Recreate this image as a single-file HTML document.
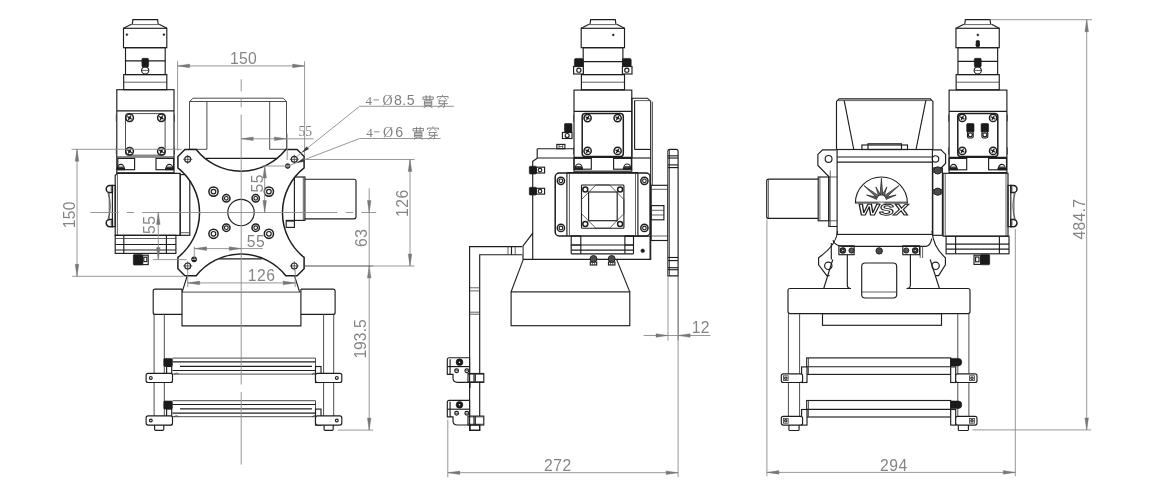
<!DOCTYPE html><html><head><meta charset="utf-8"><style>
html,body{margin:0;padding:0;background:#fff;width:1174px;height:493px;overflow:hidden}
svg{display:block;will-change:transform;filter:blur(0.35px)}
.o{fill:none;stroke:#1e1e1e;stroke-width:1.15}
.ow{fill:#fff;stroke:#1e1e1e;stroke-width:1.15}
.ob{fill:none;stroke:#1e1e1e;stroke-width:1.5}
.pl{fill:#fff;stroke:#1e1e1e;stroke-width:1.5}
.t{fill:none;stroke:#3a3a3a;stroke-width:0.8}
.fb{fill:#1a1a1a;stroke:#1a1a1a;stroke-width:0.6}
.d{fill:none;stroke:#8c8c8c;stroke-width:0.9}
.cl{fill:none;stroke:#8c8c8c;stroke-width:0.9}
.cd{fill:none;stroke:#8c8c8c;stroke-width:0.9;stroke-dasharray:12 4 2 4}
.cd2{fill:none;stroke:#8c8c8c;stroke-width:0.9;stroke-dasharray:20 5 3 5}
.ar{fill:#777;stroke:#777;stroke-width:0.4}
.tx{fill:#858585;font-family:"Liberation Sans",sans-serif}
.tx2{fill:#808080;font-family:"Liberation Sans",sans-serif}
.ray{fill:#666;stroke:#1e1e1e;stroke-width:0.7}
.ray0{fill:#fff;stroke:none}
.lg{fill:none;stroke:#1e1e1e;stroke-width:1.1}
.wsx{fill:#fff;stroke:#1e1e1e;stroke-width:0.95;font-family:"Liberation Sans",sans-serif;font-weight:bold;font-size:15.5px}
.wt{fill:none;stroke:#fff;stroke-width:0.7}
.ar2{fill:#333;stroke:#333;stroke-width:0.5}
.m{fill:none;stroke:#444;stroke-width:0.95}
.tf{fill:none;stroke:#777;stroke-width:0.5}
.sm{fill:#444;stroke:none}
.sk{fill:#555;stroke:#1e1e1e;stroke-width:1}
.wf{fill:#fff;stroke:none}
.dash{fill:none;stroke:#808080;stroke-width:0.9}
.cj{fill:none;stroke:#7a7a7a;stroke-width:0.85}
</style></head><body><svg width="1174" height="493" viewBox="0 0 1174 493"><rect x="0" y="0" width="1174" height="493" fill="#fff"/><polyline class="o" points="132.3,24.3 132.9,19.6 157.6,19.6 158.2,24.3"/>
<polyline class="o" points="131.4,24.3 123.5,28.3"/>
<polyline class="o" points="159.1,24.3 166.8,28.3"/>
<line class="t" x1="131.4" y1="24.6" x2="159.1" y2="24.6"/>
<rect class="o" x="123.5" y="28.3" width="43.3" height="19.4"/>
<rect class="o" x="125.5" y="47.7" width="39.7" height="26.9"/>
<line class="o" x1="125.5" y1="60.8" x2="165.2" y2="60.8"/>
<rect class="o" x="123.7" y="74.6" width="43.1" height="15.1"/>
<line class="t" x1="123.7" y1="82.2" x2="166.8" y2="82.2"/>
<circle class="fb" cx="126.9" cy="34.6" r="0.9"/>
<circle class="fb" cx="163.9" cy="34.6" r="0.9"/>
<rect class="fb" x="141.9" y="58.3" width="6.7" height="8.7" rx="1.2"/>
<circle class="o" cx="145.2" cy="70.4" r="3.6"/>
<line class="t" x1="141.8" y1="70.4" x2="148.6" y2="70.4"/>
<rect class="o" x="116.8" y="89.7" width="57.2" height="83.1"/>
<line class="o" x1="116.8" y1="110.9" x2="174" y2="110.9"/>
<rect class="m" x="125.5" y="113.6" width="39.6" height="41.6" rx="2"/>
<circle class="ob" cx="129.6" cy="117.8" r="3.8"/>
<line class="o" x1="127.3" y1="116.47" x2="131.9" y2="119.13"/>
<line class="o" x1="130.93" y1="115.5" x2="128.27" y2="120.1"/>
<circle class="fb" cx="129.6" cy="117.8" r="0.95"/>
<circle class="ob" cx="161.4" cy="117.8" r="3.8"/>
<line class="o" x1="159.1" y1="116.47" x2="163.7" y2="119.13"/>
<line class="o" x1="162.73" y1="115.5" x2="160.07" y2="120.1"/>
<circle class="fb" cx="161.4" cy="117.8" r="0.95"/>
<circle class="ob" cx="129.6" cy="151.3" r="3.8"/>
<line class="o" x1="127.3" y1="149.97" x2="131.9" y2="152.63"/>
<line class="o" x1="130.93" y1="149" x2="128.27" y2="153.6"/>
<circle class="fb" cx="129.6" cy="151.3" r="0.95"/>
<circle class="ob" cx="161.4" cy="151.3" r="3.8"/>
<line class="o" x1="159.1" y1="149.97" x2="163.7" y2="152.63"/>
<line class="o" x1="162.73" y1="149" x2="160.07" y2="153.6"/>
<circle class="fb" cx="161.4" cy="151.3" r="0.95"/>
<line class="o" x1="116.8" y1="157" x2="174" y2="157"/>
<rect class="o" x="117.8" y="158.4" width="16.8" height="11.3"/>
<rect class="o" x="156" y="158.4" width="17.6" height="11.3"/>
<path class="o" d="M117.4 168.4 A3.4 4.05 0 0 1 124.2 168.4 Z"/>
<line class="o" x1="118" y1="167.17" x2="123.6" y2="167.17"/>
<rect class="o" x="117.1" y="168.4" width="7.4" height="1.2"/>
<path class="o" d="M166 168.4 A3.4 4.05 0 0 1 172.8 168.4 Z"/>
<line class="o" x1="166.6" y1="167.17" x2="172.2" y2="167.17"/>
<rect class="o" x="165.7" y="168.4" width="7.4" height="1.2"/>
<rect class="sm" x="115.8" y="114.5" width="1" height="7"/>
<rect class="sm" x="174" y="114.5" width="1" height="7"/>
<rect class="sm" x="115.8" y="147.5" width="1" height="7"/>
<rect class="sm" x="174" y="147.5" width="1" height="7"/>
<path class="o" d="M115.2 175.5 L117.2 173.3 L180.2 173.3 L180.2 235.3 L115.2 235.3 Z"/>
<line class="t" x1="117.4" y1="173.3" x2="117.4" y2="235.3"/>
<rect class="o" x="180.2" y="174.6" width="9.6" height="60.7"/>
<line class="t" x1="180.2" y1="232.7" x2="189.8" y2="232.7"/>
<rect class="o" x="112.4" y="185.4" width="2.8" height="41.3"/>
<path class="ob" d="M112.4 185.4 L109.8 185.4 A3.6 3.6 0 0 0 109.8 192.6 L112.4 192.6 Z"/>
<line class="t" x1="111.2" y1="186.6" x2="111.2" y2="191.4"/>
<path class="ob" d="M112.4 219.5 L109.8 219.5 A3.6 3.6 0 0 0 109.8 226.7 L112.4 226.7 Z"/>
<line class="t" x1="111.2" y1="220.7" x2="111.2" y2="225.5"/>
<line class="t" x1="109.2" y1="192.6" x2="109.2" y2="219.5"/>
<path class="t" d="M107.8 192.6 Q113 206.05 107.8 219.5"/>
<rect class="o" x="115.2" y="235.3" width="60.7" height="18.1"/>
<line class="o" x1="123.8" y1="235.3" x2="123.8" y2="253.4"/>
<line class="o" x1="166.4" y1="235.3" x2="166.4" y2="253.4"/>
<line class="t" x1="115.2" y1="238.5" x2="175.9" y2="238.5"/>
<line class="o" x1="115.2" y1="244.5" x2="175.9" y2="244.5"/>
<line class="o" x1="115.2" y1="250" x2="175.9" y2="250"/>
<rect class="fb" x="133.3" y="254.5" width="9.3" height="10.6" rx="1"/>
<rect class="o" x="142.6" y="255.2" width="5.6" height="9.4"/>
<rect class="o" x="143.8" y="257.2" width="3" height="4.4"/>
<path class="m" d="M189.5 149.3 L189.5 101.5 L193.1 98.2 L283.1 98.2 L286.5 101.5 L286.5 149.3"/>
<line class="m" x1="189.5" y1="101.5" x2="286.5" y2="101.5"/>
<line class="m" x1="206.9" y1="101.5" x2="206.9" y2="149.3"/>
<line class="m" x1="269.7" y1="101.5" x2="269.7" y2="149.3"/>
<line class="m" x1="189.5" y1="149.3" x2="206.9" y2="149.3"/>
<line class="m" x1="269.7" y1="149.3" x2="286.5" y2="149.3"/>
<path class="o" d="M304.9 179.2 L354.0 179.2 Q356.0 179.2 356.0 181.2 L356.0 216.8 Q356.0 218.8 354.0 218.8 L304.9 218.8"/>
<rect class="o" x="294.4" y="177" width="10.5" height="43.4"/>
<line class="t" x1="303.3" y1="177" x2="303.3" y2="220.4"/>
<rect class="o" x="286.2" y="220.4" width="8.2" height="7"/>
<line class="t" x1="286.2" y1="221.4" x2="294.4" y2="221.4"/>
<path class="pl" d="M184.9 149.55 L196.2 149.55 A57.2 57.2 0 0 0 285.8 149.55 L297.1 149.55 L304.1 156.55 L304.1 167.85 A57.2 57.2 0 0 0 304.1 257.45 L304.1 268.75 L297.1 275.75 L285.8 275.75 A57.2 57.2 0 0 0 196.2 275.75 L184.9 275.75 L177.9 268.75 L177.9 257.45 A57.2 57.2 0 0 0 177.9 167.85 L177.9 156.55 Z"/>
<line class="o" x1="205.9" y1="158.3" x2="277.1" y2="158.3"/>
<line class="o" x1="218.9" y1="258.9" x2="261.8" y2="258.9"/>
<circle class="o" cx="187.7" cy="159.35" r="3"/>
<line class="t" x1="183.1" y1="159.35" x2="192.3" y2="159.35"/>
<line class="t" x1="187.7" y1="154.75" x2="187.7" y2="163.95"/>
<circle class="o" cx="187.7" cy="265.95" r="3"/>
<line class="t" x1="183.1" y1="265.95" x2="192.3" y2="265.95"/>
<line class="t" x1="187.7" y1="261.35" x2="187.7" y2="270.55"/>
<circle class="o" cx="294.3" cy="159.35" r="3"/>
<line class="t" x1="289.7" y1="159.35" x2="298.9" y2="159.35"/>
<line class="t" x1="294.3" y1="154.75" x2="294.3" y2="163.95"/>
<circle class="o" cx="294.3" cy="265.95" r="3"/>
<line class="t" x1="289.7" y1="265.95" x2="298.9" y2="265.95"/>
<line class="t" x1="294.3" y1="261.35" x2="294.3" y2="270.55"/>
<circle class="sk" cx="287.7" cy="166.05" r="2.3"/>
<line class="wt" x1="286" y1="166.05" x2="289.4" y2="166.05"/>
<circle class="fb" cx="194.1" cy="259.35" r="2.6"/>
<line class="wt" x1="192.1" y1="259.35" x2="196.1" y2="259.35"/>
<circle class="o" cx="241" cy="212.5" r="13.2"/>
<circle class="ob" cx="213.5" cy="191.6" r="4.6"/>
<circle class="o" cx="213.5" cy="191.6" r="2.3"/>
<circle class="ob" cx="268.9" cy="191.6" r="4.6"/>
<circle class="o" cx="268.9" cy="191.6" r="2.3"/>
<circle class="ob" cx="213.5" cy="233.8" r="4.6"/>
<circle class="o" cx="213.5" cy="233.8" r="2.3"/>
<circle class="ob" cx="268.9" cy="233.8" r="4.6"/>
<circle class="o" cx="268.9" cy="233.8" r="2.3"/>
<circle class="ob" cx="226.3" cy="198.3" r="3.7"/>
<circle class="o" cx="226.3" cy="198.3" r="1.85"/>
<circle class="ob" cx="255.7" cy="198.3" r="3.7"/>
<circle class="o" cx="255.7" cy="198.3" r="1.85"/>
<circle class="ob" cx="226.3" cy="227.7" r="3.7"/>
<circle class="o" cx="226.3" cy="227.7" r="1.85"/>
<circle class="ob" cx="255.7" cy="227.7" r="3.7"/>
<circle class="o" cx="255.7" cy="227.7" r="1.85"/>
<line class="o" x1="187.2" y1="275.8" x2="182.1" y2="292.1"/>
<line class="o" x1="294.6" y1="275.8" x2="299.6" y2="292.1"/>
<path class="o" d="M182.0 289.1 L155.2 289.1 Q153.2 289.1 153.2 291.1 L153.2 312.4 Q153.2 314.4 155.2 314.4 L182.0 314.4"/>
<path class="o" d="M300.9 289.1 L333.1 289.1 Q335.1 289.1 335.1 291.1 L335.1 312.4 Q335.1 314.4 333.1 314.4 L300.9 314.4"/>
<path class="o" d="M182.0 289.1 L182.0 325.9 L300.9 325.9 L300.9 289.1"/>
<line class="m" x1="182" y1="292.1" x2="300.9" y2="292.1"/>
<line class="m" x1="154.1" y1="314.4" x2="154.1" y2="425"/>
<line class="m" x1="164.3" y1="314.4" x2="164.3" y2="425"/>
<line class="m" x1="323.6" y1="314.4" x2="323.6" y2="425"/>
<line class="m" x1="333.7" y1="314.4" x2="333.7" y2="425"/>
<path class="o" d="M154.6 425 L154.6 429.2 Q154.6 430.3 155.6 430.3 L162.8 430.3 Q163.8 430.3 163.8 429.2 L163.8 425"/>
<path class="o" d="M324.1 425 L324.1 429.2 Q324.1 430.3 325.1 430.3 L332.2 430.3 Q333.2 430.3 333.2 429.2 L333.2 425"/>
<line class="m" x1="172.5" y1="358.1" x2="315.5" y2="358.1"/>
<line class="m" x1="172.5" y1="374.1" x2="315.5" y2="374.1"/>
<line class="m" x1="315.5" y1="358.1" x2="315.5" y2="374.4"/>
<line class="o" x1="172.5" y1="361.9" x2="315.5" y2="361.9"/>
<line class="o" x1="180" y1="366.3" x2="312" y2="366.3"/>
<line class="o" x1="172.5" y1="370.5" x2="315.5" y2="370.5"/>
<rect class="fb" x="163.8" y="358.4" width="8.6" height="8.1" rx="1"/>
<rect class="ow" x="166.6" y="366.5" width="5.1" height="15.8"/>
<rect class="ow" x="146.1" y="373.3" width="26.4" height="9.2" rx="2"/>
<circle class="o" cx="150.8" cy="377.9" r="1.4"/>
<rect class="ow" x="315.5" y="366.5" width="5.5" height="16"/>
<rect class="ow" x="315.5" y="373.3" width="26.3" height="9.2" rx="2"/>
<circle class="o" cx="336.8" cy="377.9" r="1.4"/>
<path class="t" d="M174 374.4 q2 -2.5 4.5 -0.5"/>
<path class="t" d="M312 374.4 q2 -2.5 4.5 -0.5"/>
<line class="m" x1="172.5" y1="400.7" x2="315.5" y2="400.7"/>
<line class="m" x1="172.5" y1="416.7" x2="315.5" y2="416.7"/>
<line class="m" x1="315.5" y1="400.7" x2="315.5" y2="417"/>
<line class="o" x1="172.5" y1="404.5" x2="315.5" y2="404.5"/>
<line class="o" x1="180" y1="408.9" x2="312" y2="408.9"/>
<line class="o" x1="172.5" y1="413.1" x2="315.5" y2="413.1"/>
<rect class="fb" x="163.8" y="401" width="8.6" height="8.1" rx="1"/>
<rect class="ow" x="166.6" y="409.1" width="5.1" height="15.8"/>
<rect class="ow" x="146.1" y="415.9" width="26.4" height="9.2" rx="2"/>
<circle class="o" cx="150.8" cy="420.5" r="1.4"/>
<rect class="ow" x="315.5" y="409.1" width="5.5" height="16"/>
<rect class="ow" x="315.5" y="415.9" width="26.3" height="9.2" rx="2"/>
<circle class="o" cx="336.8" cy="420.5" r="1.4"/>
<path class="t" d="M174 417 q2 -2.5 4.5 -0.5"/>
<path class="t" d="M312 417 q2 -2.5 4.5 -0.5"/>
<line class="cl" x1="241.2" y1="79.3" x2="241.2" y2="91.4"/>
<line class="cl" x1="241.2" y1="98.2" x2="241.2" y2="107.2"/>
<line class="cl" x1="241.2" y1="114.5" x2="241.2" y2="384.5"/>
<line class="cl" x1="241.2" y1="392.1" x2="241.2" y2="464.6"/>
<line class="cl" x1="90.4" y1="212.5" x2="118.4" y2="212.5"/>
<line class="cl" x1="126.6" y1="212.5" x2="134" y2="212.5"/>
<line class="cl" x1="142.2" y1="212.5" x2="337.4" y2="212.5"/>
<line class="cl" x1="345.6" y1="212.5" x2="353.1" y2="212.5"/>
<line class="cl" x1="361.3" y1="212.5" x2="376.2" y2="212.5"/>
<line class="d" x1="177.6" y1="60.8" x2="177.6" y2="150.5"/>
<line class="d" x1="304.6" y1="61.3" x2="304.6" y2="156"/>
<line class="d" x1="177.6" y1="65.9" x2="304.6" y2="65.9"/>
<polygon class="ar" points="177.6,65.9 189.6,64.1 189.6,67.7"/>
<polygon class="ar" points="304.6,65.9 292.6,64.1 292.6,67.7"/>
<text class="tx" x="230" y="63.9" style="font-size:15.7px;letter-spacing:0.3px">150</text>
<line class="d" x1="287.2" y1="133.6" x2="287.2" y2="160"/>
<line class="d" x1="241.2" y1="138.8" x2="313.6" y2="138.8"/>
<polygon class="ar" points="241.2,138.8 253.2,137 253.2,140.6"/>
<polygon class="ar" points="286.4,138.8 274.4,137 274.4,140.6"/>
<text class="tx2" x="298.4" y="136.4" style="font-size:13.6px;font-family:'Liberation Serif',serif;letter-spacing:0px">55</text>
<line class="d" x1="264.7" y1="166" x2="264.7" y2="212.5"/>
<polygon class="ar" points="264.7,166 262.9,178 266.5,178"/>
<polygon class="ar" points="264.7,212.5 262.9,200.5 266.5,200.5"/>
<line class="d" x1="262.5" y1="166" x2="287" y2="166"/>
<text class="tx" x="262.6" y="192.5" style="font-size:15.7px;letter-spacing:0.55px" transform="rotate(-90 262.6 192.5)">55</text>
<line class="d" x1="194.6" y1="248.6" x2="262.8" y2="248.6"/>
<polygon class="ar" points="194.6,248.6 206.6,246.8 206.6,250.4"/>
<polygon class="ar" points="241.2,248.6 229.2,246.8 229.2,250.4"/>
<line class="d" x1="194.3" y1="246.5" x2="194.3" y2="259"/>
<text class="tx" x="246.8" y="247.1" style="font-size:15.7px;letter-spacing:0.55px">55</text>
<line class="d" x1="187.7" y1="282.9" x2="295.2" y2="282.9"/>
<polygon class="ar" points="187.7,282.9 199.7,281.1 199.7,284.7"/>
<polygon class="ar" points="295.2,282.9 283.2,281.1 283.2,284.7"/>
<line class="d" x1="187.7" y1="270" x2="187.7" y2="287"/>
<line class="d" x1="295.2" y1="270" x2="295.2" y2="287"/>
<text class="tx" x="247.7" y="281" style="font-size:15.7px;letter-spacing:0.55px">126</text>
<line class="d" x1="77" y1="149.3" x2="77" y2="276.3"/>
<polygon class="ar" points="77,149.3 75.2,161.3 78.8,161.3"/>
<polygon class="ar" points="77,276.3 75.2,264.3 78.8,264.3"/>
<line class="d" x1="71.6" y1="149.3" x2="181.7" y2="149.3"/>
<line class="d" x1="72.2" y1="276.3" x2="183.7" y2="276.3"/>
<text class="tx" x="75.3" y="228.2" style="font-size:15.7px;letter-spacing:0.2px" transform="rotate(-90 75.3 228.2)">150</text>
<line class="d" x1="158.3" y1="212.5" x2="158.3" y2="259.6"/>
<polygon class="ar" points="158.3,212.5 156.5,224.5 160.1,224.5"/>
<polygon class="ar" points="158.3,259.6 156.5,247.6 160.1,247.6"/>
<line class="d" x1="153" y1="259.6" x2="186.6" y2="259.6"/>
<text class="tx" x="155.3" y="234" style="font-size:15.7px;letter-spacing:0.55px" transform="rotate(-90 155.3 234)">55</text>
<line class="d" x1="410" y1="159.5" x2="410" y2="266"/>
<polygon class="ar" points="410,159.5 408.2,171.5 411.8,171.5"/>
<polygon class="ar" points="410,266 408.2,254 411.8,254"/>
<line class="d" x1="305" y1="159.5" x2="414.5" y2="159.5"/>
<line class="d" x1="373" y1="266" x2="414.5" y2="266"/>
<text class="tx" x="408.4" y="217" style="font-size:15.7px;letter-spacing:0.55px" transform="rotate(-90 408.4 217)">126</text>
<line class="d" x1="369.2" y1="188.3" x2="369.2" y2="266"/>
<polygon class="ar" points="369.2,212.5 367.4,200.5 371,200.5"/>
<polygon class="ar" points="369.2,266 367.4,278 371,278"/>
<text class="tx" x="367.1" y="247" style="font-size:15.7px;letter-spacing:0.55px" transform="rotate(-90 367.1 247)">63</text>
<line class="d" x1="369.2" y1="266" x2="369.2" y2="430.1"/>
<polygon class="ar" points="369.2,430.1 367.4,418.1 371,418.1"/>
<line class="m" x1="304.5" y1="266" x2="373" y2="266"/>
<line class="d" x1="337.8" y1="430.1" x2="373" y2="430.1"/>
<text class="tx" x="366.3" y="358.6" style="font-size:15.7px;letter-spacing:0px" transform="rotate(-90 366.3 358.6)">193.5</text>
<line class="d" x1="359.6" y1="106.3" x2="453.9" y2="106.3"/>
<line class="d" x1="359.6" y1="106.3" x2="293.8" y2="159"/>
<polygon class="ar2" points="302.5,152 306.64,146.77 308.51,149.11"/>
<line class="d" x1="359.6" y1="138.5" x2="440.6" y2="138.5"/>
<line class="d" x1="359.6" y1="138.5" x2="287.8" y2="166.1"/>
<polygon class="ar2" points="297.5,162.4 303.03,158.67 304.11,161.47"/>
<text class="tx2" x="365.6" y="104.9" style="font-size:13px;font-family:'Liberation Serif',serif;letter-spacing:0px">4</text>
<line class="dash" x1="373.5" y1="99.9" x2="378.9" y2="99.9"/>
<text class="tx2" x="382.4" y="104.9" style="font-size:14px;font-family:'Liberation Serif',serif;letter-spacing:0px">Ø</text>
<text class="tx2" x="394" y="104.9" style="font-size:14.2px;letter-spacing:0.4px">8.5</text>
<g transform="translate(421.6 94.6) scale(1.08)">
<path class="cj" d="M1.2 2.2 H10.8 V4.4 H1.2 Z"/>
<path class="cj" d="M4.3 0.6 V5.2 M7.7 0.6 V5.2"/>
<path class="cj" d="M2.6 5.8 H9.4 V10 H2.6 Z M2.6 7.2 H9.4 M2.6 8.6 H9.4"/>
<path class="cj" d="M5 10.2 L2 12.2 M7 10.2 L10 12.2"/>
</g>
<g transform="translate(436.2 94.6) scale(1.08)">
<path class="cj" d="M6 0.2 V1.6 M1 3.4 V1.8 H11 V3.4"/>
<path class="cj" d="M4.6 2.6 L2.4 4.8 M7.4 2.6 L9.6 4.8"/>
<path class="cj" d="M2 5.8 H9.6 M3.2 5.8 L2.4 8.4 H10.8"/>
<path class="cj" d="M7.6 5.8 V11.4 L6.4 12 M7 8.6 L1.6 12"/>
</g>
<text class="tx2" x="366.2" y="136.8" style="font-size:13px;font-family:'Liberation Serif',serif;letter-spacing:0px">4</text>
<line class="dash" x1="374.1" y1="131.8" x2="379.5" y2="131.8"/>
<text class="tx2" x="383" y="136.8" style="font-size:14px;font-family:'Liberation Serif',serif;letter-spacing:0px">Ø</text>
<text class="tx2" x="395.2" y="136.8" style="font-size:14.2px;letter-spacing:0px">6</text>
<g transform="translate(411.8 126.2) scale(1.08)">
<path class="cj" d="M1.2 2.2 H10.8 V4.4 H1.2 Z"/>
<path class="cj" d="M4.3 0.6 V5.2 M7.7 0.6 V5.2"/>
<path class="cj" d="M2.6 5.8 H9.4 V10 H2.6 Z M2.6 7.2 H9.4 M2.6 8.6 H9.4"/>
<path class="cj" d="M5 10.2 L2 12.2 M7 10.2 L10 12.2"/>
</g>
<g transform="translate(426.4 126.2) scale(1.08)">
<path class="cj" d="M6 0.2 V1.6 M1 3.4 V1.8 H11 V3.4"/>
<path class="cj" d="M4.6 2.6 L2.4 4.8 M7.4 2.6 L9.6 4.8"/>
<path class="cj" d="M2 5.8 H9.6 M3.2 5.8 L2.4 8.4 H10.8"/>
<path class="cj" d="M7.6 5.8 V11.4 L6.4 12 M7 8.6 L1.6 12"/>
</g>
<polyline class="o" points="590,24.3 590.6,19.6 615.3,19.6 615.9,24.3"/>
<polyline class="o" points="589.1,24.3 581.2,28.3"/>
<polyline class="o" points="616.8,24.3 624.5,28.3"/>
<line class="t" x1="589.1" y1="24.6" x2="616.8" y2="24.6"/>
<rect class="o" x="581.2" y="28.3" width="43.3" height="19.4"/>
<rect class="o" x="583.2" y="47.7" width="39.7" height="26.9"/>
<line class="o" x1="583.2" y1="61.6" x2="622.9" y2="61.6"/>
<rect class="o" x="581.4" y="74.6" width="43.1" height="15.1"/>
<line class="t" x1="581.4" y1="82.2" x2="624.5" y2="82.2"/>
<circle class="fb" cx="613.3" cy="34.9" r="0.9"/>
<rect class="fb" x="574.4" y="58.4" width="8.9" height="8.5" rx="1.5"/>
<rect class="ow" x="573.6" y="66.5" width="9.7" height="7.5"/>
<circle class="o" cx="578.85" cy="70.2" r="2.1"/>
<rect class="fb" x="622.4" y="58.4" width="8.8" height="8.5" rx="1.5"/>
<rect class="ow" x="622.4" y="66.5" width="9.6" height="7.5"/>
<circle class="o" cx="626.8" cy="70.2" r="2.1"/>
<rect class="o" x="574" y="90.1" width="57.8" height="81.1"/>
<line class="o" x1="574" y1="111.4" x2="631.8" y2="111.4"/>
<rect class="ob" x="582.2" y="113.4" width="41.1" height="43" rx="3"/>
<circle class="ob" cx="587.6" cy="118.1" r="3.6"/>
<line class="o" x1="585.42" y1="116.84" x2="589.78" y2="119.36"/>
<line class="o" x1="588.86" y1="115.92" x2="586.34" y2="120.28"/>
<circle class="fb" cx="587.6" cy="118.1" r="0.9"/>
<circle class="ob" cx="617.6" cy="118.1" r="3.6"/>
<line class="o" x1="615.42" y1="116.84" x2="619.78" y2="119.36"/>
<line class="o" x1="618.86" y1="115.92" x2="616.34" y2="120.28"/>
<circle class="fb" cx="617.6" cy="118.1" r="0.9"/>
<circle class="ob" cx="587.6" cy="150.9" r="3.6"/>
<line class="o" x1="585.42" y1="149.64" x2="589.78" y2="152.16"/>
<line class="o" x1="588.86" y1="148.72" x2="586.34" y2="153.08"/>
<circle class="fb" cx="587.6" cy="150.9" r="0.9"/>
<circle class="ob" cx="617.6" cy="150.9" r="3.6"/>
<line class="o" x1="615.42" y1="149.64" x2="619.78" y2="152.16"/>
<line class="o" x1="618.86" y1="148.72" x2="616.34" y2="153.08"/>
<circle class="fb" cx="617.6" cy="150.9" r="0.9"/>
<line class="o" x1="574" y1="157.4" x2="631.8" y2="157.4"/>
<rect class="o" x="574" y="158.4" width="17.3" height="10.8"/>
<rect class="o" x="613.6" y="158.4" width="17.8" height="10.8"/>
<path class="o" d="M575.3 168 A3.4 4.05 0 0 1 582.1 168 Z"/>
<line class="o" x1="575.9" y1="166.77" x2="581.5" y2="166.77"/>
<rect class="o" x="575" y="168" width="7.4" height="1.2"/>
<path class="o" d="M623.8 168 A3.4 4.05 0 0 1 630.6 168 Z"/>
<line class="o" x1="624.4" y1="166.77" x2="630" y2="166.77"/>
<rect class="o" x="623.5" y="168" width="7.4" height="1.2"/>
<rect class="sm" x="573" y="114.5" width="1" height="7"/>
<rect class="sm" x="573" y="147.5" width="1" height="7"/>
<rect class="fb" x="564.5" y="123.5" width="7.5" height="9" rx="1"/>
<rect class="ow" x="562.4" y="132.5" width="9.6" height="6"/>
<circle class="o" cx="567.2" cy="135.5" r="2"/>
<path class="o" d="M631.9 158 L631.9 98.2 L647.4 98.2 L650.7 101.4 L650.7 259.4"/>
<line class="t" x1="634.6" y1="100.6" x2="650.7" y2="100.6"/>
<line class="o" x1="634.6" y1="100.6" x2="634.6" y2="149.4"/>
<line class="t" x1="652.5" y1="101.6" x2="652.5" y2="185.3"/>
<line class="o" x1="634.6" y1="149.4" x2="650.7" y2="149.4"/>
<line class="o" x1="631.3" y1="158" x2="650.7" y2="158"/>
<line class="o" x1="537.2" y1="148.7" x2="574" y2="148.7"/>
<line class="o" x1="537.2" y1="158" x2="574" y2="158"/>
<line class="o" x1="537.2" y1="148.7" x2="537.2" y2="158.2"/>
<rect class="o" x="556.8" y="144.4" width="8.1" height="4.3"/>
<line class="t" x1="559" y1="145" x2="559" y2="148"/>
<line class="t" x1="562.7" y1="145" x2="562.7" y2="148"/>
<line class="t" x1="559" y1="146.6" x2="562.7" y2="146.6"/>
<polyline class="o" points="537.2,158.2 532.7,161.4 532.7,233.2 523,245.9 523,259.4"/>
<line class="o" x1="532.7" y1="233.2" x2="532.7" y2="259.4"/>
<rect class="fb" x="529.3" y="166.2" width="7.1" height="7.8" rx="1"/>
<rect class="ow" x="536.4" y="167.2" width="8.2" height="5.8"/>
<circle class="o" cx="540" cy="170.1" r="1.8"/>
<rect class="fb" x="529.3" y="187.3" width="7.1" height="7.8" rx="1"/>
<rect class="ow" x="536.4" y="188.3" width="8.2" height="5.8"/>
<circle class="o" cx="540" cy="191.2" r="1.8"/>
<path class="ow" d="M522.3 246.6 L469.6 246.6 L469.6 430.3 L479.7 430.3 L479.7 254.7 L522.3 254.7"/>
<line class="t" x1="508" y1="246.6" x2="508" y2="254.7"/>
<line class="o" x1="511.5" y1="246.6" x2="511.5" y2="254.7"/>
<line class="t" x1="515.2" y1="246.6" x2="515.2" y2="254.7"/>
<line class="t" x1="469.6" y1="287.8" x2="479.7" y2="287.8"/>
<line class="t" x1="469.6" y1="290.9" x2="479.7" y2="290.9"/>
<line class="t" x1="469.6" y1="312.2" x2="479.7" y2="312.2"/>
<line class="t" x1="469.6" y1="314.2" x2="479.7" y2="314.2"/>
<path class="ow" d="M469.6 357.7 L449.3 357.7 Q447.3 357.7 447.3 359.7 L447.3 374.3 L453.0 374.3 L453.0 378.1 Q453.0 382.4 457.5 382.4 L469.6 382.4"/>
<line class="o" x1="450.1" y1="359.2" x2="450.1" y2="374.3"/>
<line class="o" x1="447.3" y1="366.6" x2="469.6" y2="366.6"/>
<circle class="fb" cx="459.5" cy="362.2" r="3.4"/>
<circle class="wf" cx="459.5" cy="362.2" r="0.8"/>
<circle class="o" cx="456.6" cy="370.7" r="1.9"/>
<line class="t" x1="455" y1="370.7" x2="458.2" y2="370.7"/>
<circle class="o" cx="466.8" cy="370.7" r="1.9"/>
<line class="t" x1="465.2" y1="370.7" x2="468.4" y2="370.7"/>
<rect class="ow" x="468" y="373.5" width="15.8" height="8.9"/>
<line class="o" x1="474" y1="373.5" x2="474" y2="382.4"/>
<line class="o" x1="475.3" y1="373.5" x2="475.3" y2="382.4"/>
<line class="t" x1="468" y1="374.3" x2="483.8" y2="374.3"/>
<line class="t" x1="468" y1="381.6" x2="483.8" y2="381.6"/>
<line class="o" x1="469.6" y1="357.7" x2="469.6" y2="382.4"/>
<line class="o" x1="470" y1="382.4" x2="470" y2="387.7"/>
<path class="ow" d="M469.6 400.3 L449.3 400.3 Q447.3 400.3 447.3 402.3 L447.3 416.9 L453.0 416.9 L453.0 420.7 Q453.0 425 457.5 425 L469.6 425"/>
<line class="o" x1="450.1" y1="401.8" x2="450.1" y2="416.9"/>
<line class="o" x1="447.3" y1="409.2" x2="469.6" y2="409.2"/>
<circle class="fb" cx="459.5" cy="404.8" r="3.4"/>
<circle class="wf" cx="459.5" cy="404.8" r="0.8"/>
<circle class="o" cx="456.6" cy="413.3" r="1.9"/>
<line class="t" x1="455" y1="413.3" x2="458.2" y2="413.3"/>
<circle class="o" cx="466.8" cy="413.3" r="1.9"/>
<line class="t" x1="465.2" y1="413.3" x2="468.4" y2="413.3"/>
<rect class="ow" x="468" y="416.1" width="15.8" height="8.9"/>
<line class="o" x1="474" y1="416.1" x2="474" y2="425"/>
<line class="o" x1="475.3" y1="416.1" x2="475.3" y2="425"/>
<line class="t" x1="468" y1="416.9" x2="483.8" y2="416.9"/>
<line class="t" x1="468" y1="424.2" x2="483.8" y2="424.2"/>
<line class="o" x1="469.6" y1="400.3" x2="469.6" y2="425"/>
<line class="o" x1="470" y1="425" x2="470" y2="430.3"/>
<rect class="o" x="469.6" y="425" width="10.1" height="5.3"/>
<line class="o" x1="523" y1="259.4" x2="651.1" y2="259.4"/>
<line class="o" x1="523.3" y1="259.4" x2="511.1" y2="291.9"/>
<line class="o" x1="616.6" y1="259.4" x2="629.8" y2="291.9"/>
<rect class="o" x="511.1" y="291.9" width="118.7" height="33.8"/>
<rect class="o" x="590.3" y="262" width="6.4" height="3"/>
<line class="t" x1="592.4" y1="262" x2="592.4" y2="265"/>
<line class="t" x1="594.6" y1="262" x2="594.6" y2="265"/>
<circle class="sk" cx="593.5" cy="258.9" r="3.4"/>
<circle class="t" cx="593.5" cy="258.9" r="1.6"/>
<rect class="o" x="608.5" y="262" width="6.4" height="3"/>
<line class="t" x1="610.6" y1="262" x2="610.6" y2="265"/>
<line class="t" x1="612.8" y1="262" x2="612.8" y2="265"/>
<circle class="sk" cx="611.7" cy="258.9" r="3.4"/>
<circle class="t" cx="611.7" cy="258.9" r="1.6"/>
<rect class="ob" x="555.2" y="173.1" width="94.9" height="62.9" rx="4"/>
<line class="o" x1="566.9" y1="173.1" x2="566.9" y2="236"/>
<line class="t" x1="569.4" y1="173.1" x2="569.4" y2="236"/>
<line class="t" x1="635.5" y1="173.1" x2="635.5" y2="236"/>
<line class="o" x1="637.9" y1="173.1" x2="637.9" y2="236"/>
<line class="o" x1="566.9" y1="172.6" x2="637.9" y2="172.6"/>
<circle class="ob" cx="560.9" cy="180.8" r="3.6"/>
<circle class="o" cx="560.9" cy="180.8" r="1.8"/>
<circle class="ob" cx="644.4" cy="180.8" r="3.6"/>
<circle class="o" cx="644.4" cy="180.8" r="1.8"/>
<circle class="ob" cx="560.9" cy="227.9" r="3.6"/>
<circle class="o" cx="560.9" cy="227.9" r="1.8"/>
<circle class="ob" cx="644.4" cy="227.9" r="3.6"/>
<circle class="o" cx="644.4" cy="227.9" r="1.8"/>
<rect class="o" x="581.5" y="185" width="42.4" height="43.2" rx="0.8"/>
<rect class="o" x="588.6" y="192" width="28.6" height="28.7"/>
<polygon class="t" points="595.8,185 609.6,185 623.9,199.5 623.9,213.7 609.6,228.2 595.8,228.2 581.5,213.7 581.5,199.5"/>
<circle class="ob" cx="585.3" cy="189.4" r="2.5"/>
<circle class="ob" cx="620.1" cy="189.4" r="2.5"/>
<circle class="ob" cx="585.3" cy="224" r="2.5"/>
<circle class="ob" cx="620.1" cy="224" r="2.5"/>
<rect class="o" x="571.2" y="236" width="9.6" height="9"/>
<rect class="o" x="624.9" y="236" width="8.6" height="9"/>
<line class="o" x1="571.2" y1="245" x2="633.5" y2="245"/>
<line class="o" x1="571.2" y1="250.1" x2="633.5" y2="250.1"/>
<line class="o" x1="571.2" y1="253.8" x2="633.5" y2="253.8"/>
<line class="o" x1="571.2" y1="245" x2="571.2" y2="253.8"/>
<line class="o" x1="633.5" y1="245" x2="633.5" y2="253.8"/>
<line class="o" x1="580.8" y1="245" x2="580.8" y2="253.8"/>
<line class="o" x1="624.9" y1="245" x2="624.9" y2="253.8"/>
<circle class="fb" cx="642.7" cy="250.8" r="1.8"/>
<polyline class="o" points="625.4,236.2 650.1,236.2"/>
<line class="o" x1="650.1" y1="236" x2="650.1" y2="259.4"/>
<rect class="o" x="651.1" y="185.3" width="16.9" height="55.2"/>
<line class="t" x1="651.1" y1="189.3" x2="668" y2="189.3"/>
<line class="t" x1="651.1" y1="236" x2="668" y2="236"/>
<rect class="o" x="651.1" y="205.6" width="12.8" height="14.2"/>
<line class="t" x1="651.1" y1="210.3" x2="663.9" y2="210.3"/>
<line class="t" x1="651.1" y1="215" x2="663.9" y2="215"/>
<path class="ow" d="M667.9 275.8 L667.9 151.4 Q667.9 149.4 669.9 149.4 L676.1 149.4 Q678.1 149.4 678.1 151.4 L678.1 275.8 Z"/>
<line class="t" x1="669.5" y1="149.4" x2="669.5" y2="275.8"/>
<line class="o" x1="667.9" y1="155.8" x2="678.1" y2="155.8"/>
<line class="o" x1="667.9" y1="158" x2="678.1" y2="158"/>
<line class="o" x1="667.9" y1="164.9" x2="678.1" y2="164.9"/>
<line class="o" x1="667.9" y1="167.6" x2="678.1" y2="167.6"/>
<line class="o" x1="667.9" y1="257.5" x2="678.1" y2="257.5"/>
<line class="o" x1="667.9" y1="260.6" x2="678.1" y2="260.6"/>
<line class="o" x1="667.9" y1="267.7" x2="678.1" y2="267.7"/>
<line class="o" x1="667.9" y1="269.7" x2="678.1" y2="269.7"/>
<line class="d" x1="668" y1="276" x2="668" y2="340.6"/>
<line class="m" x1="678.1" y1="276" x2="678.1" y2="340.6"/>
<line class="d" x1="678.1" y1="340.6" x2="678.1" y2="477.2"/>
<line class="d" x1="643.6" y1="335.5" x2="710.5" y2="335.5"/>
<polygon class="ar" points="668,335.5 656,333.7 656,337.3"/>
<polygon class="ar" points="678.1,335.5 690.1,333.7 690.1,337.3"/>
<text class="tx" x="691.8" y="333.2" style="font-size:15.7px;letter-spacing:0.2px">12</text>
<line class="d" x1="447.8" y1="419.6" x2="447.8" y2="477.4"/>
<line class="d" x1="447.8" y1="472.7" x2="678.1" y2="472.7"/>
<polygon class="ar" points="447.8,472.7 459.8,470.9 459.8,474.5"/>
<polygon class="ar" points="678.1,472.7 666.1,470.9 666.1,474.5"/>
<text class="tx" x="543.9" y="471.1" style="font-size:15.7px;letter-spacing:0.55px">272</text>
<polyline class="o" points="964.75,24.3 965.35,19.6 990.05,19.6 990.65,24.3"/>
<polyline class="o" points="963.85,24.3 955.95,28.3"/>
<polyline class="o" points="991.55,24.3 999.25,28.3"/>
<line class="t" x1="963.85" y1="24.6" x2="991.55" y2="24.6"/>
<rect class="o" x="955.95" y="28.3" width="43.3" height="19.4"/>
<rect class="o" x="957.95" y="47.7" width="39.7" height="26.9"/>
<line class="o" x1="957.95" y1="61.3" x2="997.65" y2="61.3"/>
<rect class="o" x="956.15" y="74.6" width="43.1" height="15.1"/>
<line class="t" x1="956.15" y1="82.2" x2="999.25" y2="82.2"/>
<circle class="fb" cx="977.8" cy="34.9" r="0.9"/>
<rect class="fb" x="976.1" y="40.5" width="3.4" height="5.7" rx="1"/>
<circle class="o" cx="977.8" cy="45" r="1.6"/>
<rect class="fb" x="974.3" y="58.3" width="6.9" height="8.7" rx="1.2"/>
<circle class="o" cx="977.75" cy="70.4" r="3.6"/>
<line class="t" x1="974.3" y1="70.4" x2="981.2" y2="70.4"/>
<rect class="o" x="949.1" y="90.1" width="57.8" height="82.5"/>
<line class="o" x1="949.1" y1="111.4" x2="1006.9" y2="111.4"/>
<rect class="ob" x="957.8" y="113.4" width="40" height="43" rx="3"/>
<circle class="ob" cx="962.3" cy="117.9" r="3.6"/>
<line class="o" x1="960.12" y1="116.64" x2="964.48" y2="119.16"/>
<line class="o" x1="963.56" y1="115.72" x2="961.04" y2="120.08"/>
<circle class="fb" cx="962.3" cy="117.9" r="0.9"/>
<circle class="ob" cx="993.1" cy="117.9" r="3.6"/>
<line class="o" x1="990.92" y1="116.64" x2="995.28" y2="119.16"/>
<line class="o" x1="994.36" y1="115.72" x2="991.84" y2="120.08"/>
<circle class="fb" cx="993.1" cy="117.9" r="0.9"/>
<circle class="ob" cx="962.3" cy="150.9" r="3.6"/>
<line class="o" x1="960.12" y1="149.64" x2="964.48" y2="152.16"/>
<line class="o" x1="963.56" y1="148.72" x2="961.04" y2="153.08"/>
<circle class="fb" cx="962.3" cy="150.9" r="0.9"/>
<circle class="ob" cx="993.1" cy="150.9" r="3.6"/>
<line class="o" x1="990.92" y1="149.64" x2="995.28" y2="152.16"/>
<line class="o" x1="994.36" y1="148.72" x2="991.84" y2="153.08"/>
<circle class="fb" cx="993.1" cy="150.9" r="0.9"/>
<rect class="fb" x="966.7" y="123.5" width="7.3" height="8.7" rx="1"/>
<rect class="ow" x="967.5" y="131.7" width="5.7" height="6.3" rx="1.5"/>
<circle class="o" cx="970.35" cy="134.8" r="2"/>
<rect class="fb" x="981.1" y="123.5" width="7.5" height="8.7" rx="1"/>
<rect class="ow" x="981.9" y="131.7" width="5.9" height="6.3" rx="1.5"/>
<circle class="o" cx="984.85" cy="134.8" r="2"/>
<line class="o" x1="949.1" y1="157.4" x2="1006.9" y2="157.4"/>
<rect class="o" x="949.1" y="158.4" width="17.6" height="11.4"/>
<rect class="o" x="988.6" y="158.4" width="17.9" height="11.4"/>
<path class="o" d="M950.1 168.4 A3.4 4.05 0 0 1 956.9 168.4 Z"/>
<line class="o" x1="950.7" y1="167.17" x2="956.3" y2="167.17"/>
<rect class="o" x="949.8" y="168.4" width="7.4" height="1.2"/>
<path class="o" d="M998.4 168.4 A3.4 4.05 0 0 1 1005.2 168.4 Z"/>
<line class="o" x1="999" y1="167.17" x2="1004.6" y2="167.17"/>
<rect class="o" x="998.1" y="168.4" width="7.4" height="1.2"/>
<rect class="sm" x="948.1" y="114.5" width="1" height="7"/>
<rect class="sm" x="948.1" y="147.5" width="1" height="7"/>
<rect class="sm" x="1006.9" y="114.5" width="1" height="7"/>
<rect class="sm" x="1006.9" y="147.5" width="1" height="7"/>
<rect class="o" x="943.1" y="173.3" width="64.9" height="62.9"/>
<line class="t" x1="1006" y1="173.3" x2="1006" y2="236.2"/>
<line class="t" x1="945.2" y1="173.3" x2="945.2" y2="236.2"/>
<rect class="o" x="1008" y="185.4" width="2.8" height="41.3"/>
<path class="ob" d="M1010.8 185.4 L1013.4 185.4 A3.6 3.6 0 0 1 1013.4 192.6 L1010.8 192.6 Z"/>
<line class="t" x1="1012" y1="186.6" x2="1012" y2="191.4"/>
<path class="ob" d="M1010.8 219.5 L1013.4 219.5 A3.6 3.6 0 0 1 1013.4 226.7 L1010.8 226.7 Z"/>
<line class="t" x1="1012" y1="220.7" x2="1012" y2="225.5"/>
<line class="t" x1="1014" y1="192.6" x2="1014" y2="219.5"/>
<path class="t" d="M1015.4 192.6 Q1010.2 206.05 1015.4 219.5"/>
<rect class="o" x="946.1" y="236.2" width="62.9" height="17.6"/>
<line class="o" x1="946.1" y1="244.1" x2="1009" y2="244.1"/>
<line class="o" x1="946.1" y1="249.1" x2="1009" y2="249.1"/>
<line class="o" x1="955.6" y1="236.2" x2="955.6" y2="253.8"/>
<line class="o" x1="999.4" y1="236.2" x2="999.4" y2="253.8"/>
<rect class="fb" x="980.6" y="254.6" width="9.1" height="10.2" rx="1"/>
<rect class="ow" x="974" y="255.2" width="6.6" height="9.2"/>
<rect class="o" x="975.6" y="257" width="3.4" height="4.8"/>
<rect class="o" x="932.8" y="168" width="9.6" height="67.3"/>
<rect class="t" x="933.5" y="168.2" width="8.3" height="4.4"/>
<circle class="sk" cx="937.7" cy="170.4" r="3.6"/>
<circle class="t" cx="937.7" cy="170.4" r="1.5"/>
<rect class="t" x="933.5" y="189.5" width="8.3" height="4.4"/>
<circle class="sk" cx="937.7" cy="191.7" r="3.6"/>
<circle class="t" cx="937.7" cy="191.7" r="1.5"/>
<path class="o" d="M836.5 149.5 L836.5 101.4 L839.1 98.8 L930.3 98.8 L932.9 101.4 L932.9 149.5"/>
<line class="t" x1="837.5" y1="100.6" x2="932" y2="100.6"/>
<line class="o" x1="844.2" y1="100.6" x2="853.8" y2="149.5"/>
<line class="o" x1="925.8" y1="100.6" x2="916" y2="149.5"/>
<rect class="o" x="861.9" y="145" width="45.6" height="4.5"/>
<rect class="o" x="868" y="143.8" width="33.5" height="5.7"/>
<rect class="o" x="837.1" y="149.5" width="95.3" height="84.9"/>
<line class="o" x1="837.1" y1="157" x2="932.4" y2="157"/>
<line class="o" x1="837.1" y1="162.1" x2="932.4" y2="162.1"/>
<path class="o" d="M836.5 149.8 L822.5 149.8 L817.9 154.4 L817.9 165.5 L828.8 176.5 L828.8 226.5 L837.1 226.5"/>
<line class="t" x1="830.2" y1="170.5" x2="830.2" y2="226.5"/>
<line class="t" x1="828.8" y1="177" x2="837.1" y2="177"/>
<line class="t" x1="828.8" y1="220.8" x2="837.1" y2="220.8"/>
<circle class="o" cx="828.6" cy="158.9" r="3.4"/>
<path class="o" d="M932.9 149.8 L941.0 149.8 L945.6 154.4 L945.6 163.5 L941.0 168.0"/>
<circle class="o" cx="935.5" cy="158.9" r="3.2"/>
<path class="o" d="M818.2 179.1 L768.7 179.1 Q766.7 179.1 766.7 181.1 L766.7 216.4 Q766.7 218.4 768.7 218.4 L818.2 218.4"/>
<line class="t" x1="768.4" y1="179.1" x2="768.4" y2="218.4"/>
<rect class="o" x="818.2" y="177" width="10.6" height="43.8"/>
<line class="t" x1="819.9" y1="177" x2="819.9" y2="220.8"/>
<path class="lg" d="M855.4 203 A26 26 0 0 1 907.4 203 Z"/>
<polygon class="ray" points="882.8,195.3 881.4,178.3 880,195.3"/>
<polygon class="ray" points="878.78,195.88 863.91,185.64 877.02,198.06"/>
<polygon class="ray" points="885.78,198.06 898.89,185.64 884.02,195.88"/>
<polygon class="ray" points="880.65,195.23 875.93,186.91 878.63,196.09"/>
<polygon class="ray" points="884.17,196.09 886.87,186.91 882.15,195.23"/>
<polygon class="ray" points="877.46,197.36 866.66,195.01 876.78,199.46"/>
<polygon class="ray" points="886.02,199.46 896.14,195.01 885.34,197.36"/>
<circle class="ray0" cx="881.4" cy="199.8" r="4.2"/>
<line class="t" x1="855.8" y1="202.1" x2="907" y2="202.1"/>
<g transform="translate(857.6 214.8) skewX(-9)"><text x="0" y="0" textLength="50.2" lengthAdjust="spacingAndGlyphs" class="wsx">WSX</text></g>
<path class="o" d="M837.6 231 C837 240 831 249 818.6 257.7 L818.6 264.8 L826.8 275.6 L829.6 275.6"/>
<circle class="o" cx="828.3" cy="265.8" r="3.7"/>
<path class="o" d="M932.0 231 C932.6 240 935.5 249 945.4 257.7 L945.4 264.8 L938.6 275.6 L935.8 275.6"/>
<circle class="o" cx="935.6" cy="265.8" r="3.7"/>
<line class="o" x1="832.8" y1="259.5" x2="823.7" y2="288.5"/>
<line class="o" x1="930.2" y1="259.5" x2="939.4" y2="288.5"/>
<path class="o" d="M832.8 240.2 Q835.5 246.3 843.5 246.3 L925.7 246.3 Q930.5 246.3 931.7 238.7"/>
<line class="o" x1="831.3" y1="243" x2="831.3" y2="259.5"/>
<path class="o" d="M847.3 254.7 L847.3 285.0 Q847.3 288.5 851.0 288.5"/>
<path class="o" d="M910.4 254.7 L910.4 285.0 Q910.4 288.5 906.7 288.5"/>
<line class="t" x1="922.6" y1="246.3" x2="922.6" y2="258"/>
<line class="t" x1="920.2" y1="246.3" x2="920.2" y2="258"/>
<rect class="o" x="861.7" y="263" width="35" height="35" rx="3.5"/>
<line class="t" x1="861.7" y1="292" x2="896.7" y2="292"/>
<rect class="o" x="838.9" y="245.8" width="15.2" height="8.9"/>
<rect class="o" x="902.8" y="245.8" width="16.8" height="8.9"/>
<circle class="ob" cx="842.8" cy="250.5" r="2.5"/>
<circle class="o" cx="842.8" cy="250.5" r="1.25"/>
<circle class="sk" cx="851.5" cy="250.5" r="2.6"/>
<circle class="sk" cx="906.2" cy="250.5" r="2.6"/>
<circle class="ob" cx="915.2" cy="250.5" r="2.5"/>
<circle class="o" cx="915.2" cy="250.5" r="1.25"/>
<circle class="sk" cx="879.2" cy="250.9" r="3.2"/>
<circle class="t" cx="879.2" cy="250.9" r="1.3"/>
<path class="o" d="M851.0 288.5 L790 288.5 Q788 288.5 788 290.5 L788 311.6 Q788 313.6 790 313.6 L968 313.6 Q970 313.6 970 311.6 L970 290.5 Q970 288.5 968 288.5 L906.7 288.5"/>
<rect class="o" x="822.5" y="313.6" width="119" height="11.7"/>
<line class="m" x1="788.4" y1="313.6" x2="788.4" y2="425"/>
<line class="m" x1="799.6" y1="313.6" x2="799.6" y2="425"/>
<line class="m" x1="957.8" y1="313.6" x2="957.8" y2="425"/>
<line class="m" x1="968.9" y1="313.6" x2="968.9" y2="425"/>
<path class="o" d="M788.9 425 L788.9 429.4 Q788.9 430.5 789.9 430.5 L798.1 430.5 Q799.1 430.5 799.1 429.4 L799.1 425"/>
<path class="o" d="M958.3 425 L958.3 429.4 Q958.3 430.5 959.3 430.5 L967.4 430.5 Q968.4 430.5 968.4 429.4 L968.4 425"/>
<rect class="ow" x="806.7" y="357.9" width="144" height="16.5"/>
<line class="o" x1="806.7" y1="366.7" x2="950.7" y2="366.7"/>
<line class="t" x1="808.5" y1="357.9" x2="808.5" y2="374.4"/>
<rect class="ow" x="801.6" y="366.9" width="5.4" height="15.6"/>
<rect class="ow" x="781.3" y="373.8" width="21.3" height="8.7" rx="2"/>
<rect class="t" x="783.4" y="375.8" width="4.8" height="4.8"/>
<circle class="o" cx="785.8" cy="378.2" r="1.2"/>
<rect class="ow" x="950.7" y="366.9" width="5" height="15.6"/>
<rect class="ow" x="955.7" y="373.8" width="21.3" height="8.7" rx="2"/>
<rect class="t" x="969.6" y="375.8" width="4.8" height="4.8"/>
<circle class="o" cx="972" cy="378.2" r="1.2"/>
<path class="fb" d="M950.7 358.4 L958.5 358.4 Q961.8 358.4 961.8 362.1 Q961.8 365.9 958.5 365.9 L950.7 365.9 Z"/>
<rect class="ow" x="806.7" y="400.5" width="144" height="16.5"/>
<line class="o" x1="806.7" y1="409.3" x2="950.7" y2="409.3"/>
<line class="t" x1="808.5" y1="400.5" x2="808.5" y2="417"/>
<rect class="ow" x="801.6" y="409.5" width="5.4" height="15.6"/>
<rect class="ow" x="781.3" y="416.4" width="21.3" height="8.7" rx="2"/>
<rect class="t" x="783.4" y="418.4" width="4.8" height="4.8"/>
<circle class="o" cx="785.8" cy="420.8" r="1.2"/>
<rect class="ow" x="950.7" y="409.5" width="5" height="15.6"/>
<rect class="ow" x="955.7" y="416.4" width="21.3" height="8.7" rx="2"/>
<rect class="t" x="969.6" y="418.4" width="4.8" height="4.8"/>
<circle class="o" cx="972" cy="420.8" r="1.2"/>
<path class="fb" d="M950.7 401 L958.5 401 Q961.8 401 961.8 404.7 Q961.8 408.5 958.5 408.5 L950.7 408.5 Z"/>
<line class="d" x1="766.9" y1="219.5" x2="766.9" y2="476.3"/>
<line class="d" x1="1015.3" y1="229" x2="1015.3" y2="476.3"/>
<line class="d" x1="766.9" y1="472.4" x2="1015.3" y2="472.4"/>
<polygon class="ar" points="766.9,472.4 778.9,470.6 778.9,474.2"/>
<polygon class="ar" points="1015.3,472.4 1003.3,470.6 1003.3,474.2"/>
<text class="tx" x="880" y="471" style="font-size:15.7px;letter-spacing:0.55px">294</text>
<line class="d" x1="990.5" y1="19.7" x2="1092" y2="19.7"/>
<line class="d" x1="972.5" y1="429.9" x2="1091.1" y2="429.9"/>
<line class="d" x1="1086.7" y1="19.7" x2="1086.7" y2="429.9"/>
<polygon class="ar" points="1086.7,19.7 1084.9,31.7 1088.5,31.7"/>
<polygon class="ar" points="1086.7,429.9 1084.9,417.9 1088.5,417.9"/>
<text class="tx" x="1085.1" y="239.6" style="font-size:15.7px;letter-spacing:0.3px" transform="rotate(-90 1085.1 239.6)">484.7</text></svg></body></html>
